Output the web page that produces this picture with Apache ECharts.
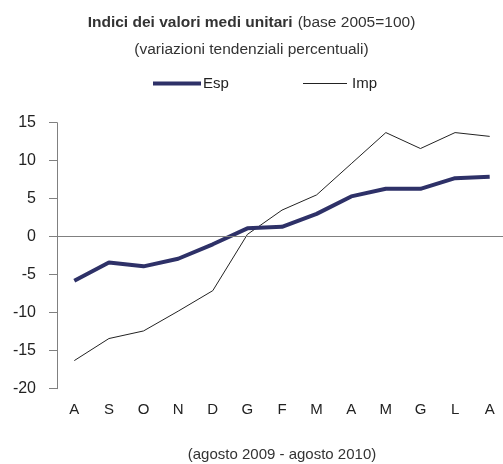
<!DOCTYPE html>
<html>
<head>
<meta charset="utf-8">
<script src="https://cdn.jsdelivr.net/npm/echarts@6/dist/echarts.min.js"></script>
<style>
  html, body { margin: 0; padding: 0; background: #fff; }
  #chart { width: 503px; height: 464px; }
</style>
</head>
<body>
<div id="chart"></div>
<script>
// mesi agosto 2009 - agosto 2010
var mesi = ['A', 'S', 'O', 'N', 'D', 'G', 'F', 'M', 'A', 'M', 'G', 'L', 'A'];
var esp = [-5.8, -3.4, -3.9, -2.9, -1.0, 1.1, 1.3, 3.0, 5.3, 6.3, 6.3, 7.7, 7.9];
var imp = [-16.3, -13.4, -12.4, -9.8, -7.1, 0.3, 3.5, 5.5, 9.6, 13.7, 11.6, 13.7, 13.2];
var yTicks = [-20, -15, -10, -5, 0, 5, 10, 15];

var font = 'Liberation Sans, Arial, sans-serif';
var myChart = echarts.init(document.getElementById('chart'));
myChart.setOption({
  animation: false,
  textStyle: { fontFamily: font },
  title: [{
    text: '{b|Indici dei valori medi unitari} {n|(base 2005=100)}',
    left: 'center',
    top: 9,
    textStyle: {
      rich: {
        b: { fontSize: 15.5, fontWeight: 'bold', color: '#333', fontFamily: font },
        n: { fontSize: 15.5, fontWeight: 'normal', color: '#333', fontFamily: font }
      }
    }
  }, {
    text: '(variazioni tendenziali percentuali)',
    left: 'center',
    top: 37,
    textStyle: { fontSize: 15.5, fontWeight: 'normal', color: '#333', fontFamily: font }
  }],
  legend: [{
    data: ['Esp'],
    left: 148,
    top: 71,
    icon: 'rect',
    itemWidth: 48,
    itemHeight: 4,
    itemGap: 0,
    textStyle: { fontSize: 15, color: '#222', padding: [0, 0, 0, -3] }
  }, {
    data: ['Imp'],
    left: 298,
    top: 71,
    icon: 'rect',
    itemWidth: 44,
    itemHeight: 1,
    textStyle: { fontSize: 15, color: '#222' }
  }],
  grid: { left: 57, top: 122.7, bottom: 75.3, right: -4, containLabel: false, outerBoundsMode: 'none' },
  xAxis: {
    type: 'category',
    data: mesi,
    boundaryGap: true,
    axisLine: { show: false, onZero: false },
    axisTick: { show: false },
    axisLabel: { fontSize: 15, color: '#222', margin: 14, interval: 0 },
    name: '(agosto 2009 - agosto 2010)',
    nameLocation: 'middle',
    nameGap: 59,
    nameTextStyle: { fontSize: 15, color: '#333' }
  },
  yAxis: {
    type: 'value',
    min: yTicks[0],
    max: yTicks[yTicks.length - 1],
    interval: 5,
    axisLine: { show: true, lineStyle: { color: '#808080', width: 1 } },
    axisTick: { show: true, length: 8, lineStyle: { color: '#808080' } },
    axisLabel: { fontSize: 16, color: '#222', margin: 21 },
    splitLine: { show: false }
  },
  series: [{
    name: 'Esp',
    type: 'line',
    data: esp,
    symbol: 'none',
    color: '#2e3168',
    lineStyle: { width: 4, color: '#2e3168' },
    z: 3,
    markLine: {
      silent: true,
      symbol: 'none',
      label: { show: false },
      lineStyle: { color: '#808080', width: 1, type: 'solid' },
      data: [{ yAxis: 0 }]
    }
  }, {
    name: 'Imp',
    type: 'line',
    data: imp,
    symbol: 'none',
    color: '#222',
    lineStyle: { width: 1, color: '#222' },
    z: 2
  }]
});
</script>
</body>
</html>
